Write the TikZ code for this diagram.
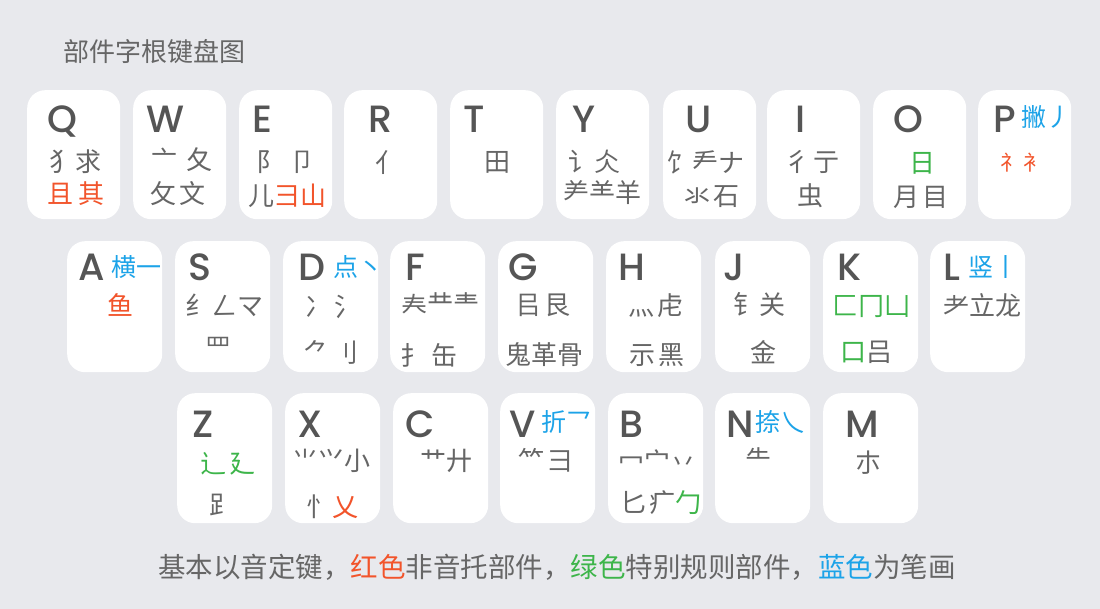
\documentclass[tikz,border=0pt]{standalone}
\usepackage{fontspec}
\newfontfamily\cjk{Noto Sans CJK SC}
\newfontfamily\latf{Poppins}[UprightFont={* Medium}]
\definecolor{bgc}{HTML}{E8E9ED}
\definecolor{keytxt}{HTML}{555555}
\definecolor{comptxt}{HTML}{666666}
\definecolor{cred}{HTML}{F2542B}
\definecolor{cgreen}{HTML}{3DB54A}
\definecolor{cblue}{HTML}{1CA3E8}
\tikzset{
 keybox/.style={fill=white, rounded corners=18pt, draw=none, inner sep=0pt, anchor=north west},
 keyA/.style={keybox, minimum width=93pt, minimum height=129pt},
 keyB/.style={keybox, minimum width=95pt, minimum height=131pt},
 keyC/.style={keybox, minimum width=95pt, minimum height=130pt},
 letter/.style={font=\latf\fontsize{38}{38}\selectfont, text=keytxt, anchor=base west, inner sep=0pt},
 comp/.style={font=\cjk\fontsize{26}{26}\selectfont, text=comptxt, inner sep=0pt},
 strk/.style={font=\cjk\fontsize{25}{25}\selectfont, text=cblue, anchor=west, inner sep=0pt},
}
\begin{document}
\begin{tikzpicture}[x=1pt,y=-1pt]
\fill[bgc] (0,0) rectangle (1100,609);
\useasboundingbox (0,0) rectangle (1100,609);
\node[font=\cjk\fontsize{26}{26}\selectfont, text=comptxt, anchor=west, inner sep=0pt] (title) at (63,52) {部件字根键盘图};
% ---------- row 1
\node[keyA] (kQ) at (27,90) {};
\node[keyA] (kW) at (133,90) {};
\node[keyA] (kE) at (239,90) {};
\node[keyA] (kR) at (344,90) {};
\node[keyA] (kT) at (450,90) {};
\node[keyA] (kY) at (556,90) {};
\node[keyA] (kU) at (663,90) {};
\node[keyA] (kI) at (767,90) {};
\node[keyA] (kO) at (873,90) {};
\node[keyA] (kP) at (978,90) {};
\node[letter] (lQ) at (47,133) {Q};
\node[letter] (lW) at (146,133) {W};
\node[letter] (lE) at (252,133) {E};
\node[letter] (lR) at (368,133) {R};
\node[letter] (lT) at (463,133) {T};
\node[letter] (lY) at (572,133) {Y};
\node[letter] (lU) at (685,133) {U};
\node[letter] (lI) at (795,133) {I};
\node[letter] (lO) at (893,133) {O};
\node[letter] (lP) at (993,133) {P};
\node[strk] (sP) at (1021,117) {撇丿};
\node[comp] (aQ) at (75,162) {犭求};
\node[comp, text=cred] (bQ) at (76,194) {且\hspace{6pt}其};
\node[comp] (aW) at (182,160) {亠\hspace{10pt}夂};
\node[comp] (bW) at (178,194) {攵\hspace{4pt}文};
\node[comp] (aE) at (286,162) {阝\hspace{8pt}卩};
\node[comp] (bE) at (287,196) {儿{\color{cred}彐山}};
\node[comp] (aR) at (388,163) {亻};
\node[comp] (aT) at (497,162) {田};
\node[comp] (aY) at (594,162) {讠仌};
\node[comp] (bY) at (602,193) {⺶⺷羊};
\node[comp] (aU) at (705,162) {饣龵ナ};
\node[comp] (bU) at (712,197) {氺\hspace{3pt}石};
\node[comp] (aI) at (812,162) {彳\hspace{4pt}亍};
\node[comp] (bI) at (810,196) {虫};
\node[comp, text=cgreen] (aO) at (922,163) {日};
\node[comp] (bO) at (921,197) {月\hspace{4pt}目};
\node[comp, text=cred, font=\cjk\fontsize{21}{21}\selectfont] (aP) at (1022,163) {礻\hspace{2pt}衤};
% ---------- row 2
\node[keyB] (kA) at (67,241) {};
\node[keyB] (kS) at (175,241) {};
\node[keyB] (kD) at (283,241) {};
\node[keyB] (kF) at (390,241) {};
\node[keyB] (kG) at (498,241) {};
\node[keyB] (kH) at (606,241) {};
\node[keyB] (kJ) at (715,241) {};
\node[keyB] (kK) at (823,241) {};
\node[keyB] (kL) at (930,241) {};
\node[letter] (lA) at (78,281) {A};
\node[letter] (lS) at (188,281) {S};
\node[letter] (lD) at (298,281) {D};
\node[letter] (lF) at (405,281) {F};
\node[letter] (lG) at (508,281) {G};
\node[letter] (lH) at (618,281) {H};
\node[letter] (lJ) at (723,281) {J};
\node[letter] (lK) at (837,281) {K};
\node[letter] (lL) at (943,281) {L};
\node[strk] (sA) at (111,267) {横一};
\node[strk] (sD) at (333,267) {点丶};
\node[strk] (sL) at (968,267) {竖丨};
\node[comp, text=cred] (aA) at (120,305) {鱼};
\node[comp] (aS) at (224,305) {纟ㄥマ};
\node[comp] (bS) at (218,347) {罒};
\node[comp] (aD) at (333,307) {冫\hspace{4pt}氵};
\node[comp] (bD) at (331,352) {⺈\hspace{4pt}刂};
\node[comp] (aF) at (440,304) {𡗗龷龶};
\node[comp] (bF) at (429,355) {扌\hspace{6pt}缶};
\node[comp] (aG) at (543,305) {㠯\hspace{4pt}艮};
\node[comp] (bG) at (544,355) {鬼革骨};
\node[comp] (aH) at (656,306) {灬\hspace{4pt}虍};
\node[comp] (bH) at (657,355) {示\hspace{4pt}黑};
\node[comp] (aJ) at (759,304) {钅关};
\node[comp] (bJ) at (763,352) {金};
\node[comp, text=cgreen] (aK) at (871,307) {匚冂凵};
\node[comp] (bK) at (866,352) {{\color{cgreen}口}吕};
\node[comp] (aL) at (982,305) {耂立龙};
% ---------- row 3
\node[keyC] (kZ) at (177,393) {};
\node[keyC] (kX) at (285,393) {};
\node[keyC] (kC) at (393,393) {};
\node[keyC] (kV) at (500,393) {};
\node[keyC] (kB) at (608,393) {};
\node[keyC] (kN) at (715,393) {};
\node[keyC] (kM) at (823,393) {};
\node[letter] (lZ) at (192,437) {Z};
\node[letter] (lX) at (297,437) {X};
\node[letter] (lC) at (405,437) {C};
\node[letter] (lV) at (509,437) {V};
\node[letter] (lB) at (619,437) {B};
\node[letter] (lN) at (726,437) {N};
\node[letter] (lM) at (845,437) {M};
\node[strk] (sV) at (541,422) {折乛};
\node[strk] (sN) at (755,422) {捺乀};
\node[comp, text=cgreen] (aZ) at (228,464) {辶\hspace{4pt}廴};
\node[comp] (bZ) at (222,505) {⻊};
\node[comp] (aX) at (331,461) {⺌⺍小};
\node[comp] (bX) at (332,507) {忄{\color{cred}乂}};
\node[comp] (aC) at (446,461) {艹廾};
\node[comp] (aV) at (546,460) {⺮\hspace{4pt}⺕};
\node[comp] (aB) at (657,461) {冖宀丷};
\node[comp] (bB) at (661,503) {匕\hspace{3pt}疒{\color{cgreen}勹}};
\node[comp] (aN) at (758,459) {⺧};
\node[comp] (aM) at (868,463) {朩};
% ---------- legend
\node[font=\cjk\fontsize{27.5}{27.5}\selectfont, text=comptxt, inner sep=0pt] (legend) at (557,567)
 {基本以音定键，{\color{cred}红色}非音托部件，{\color{cgreen}绿色}特别规则部件，{\color{cblue}蓝色}为笔画};
\end{tikzpicture}
\end{document}
